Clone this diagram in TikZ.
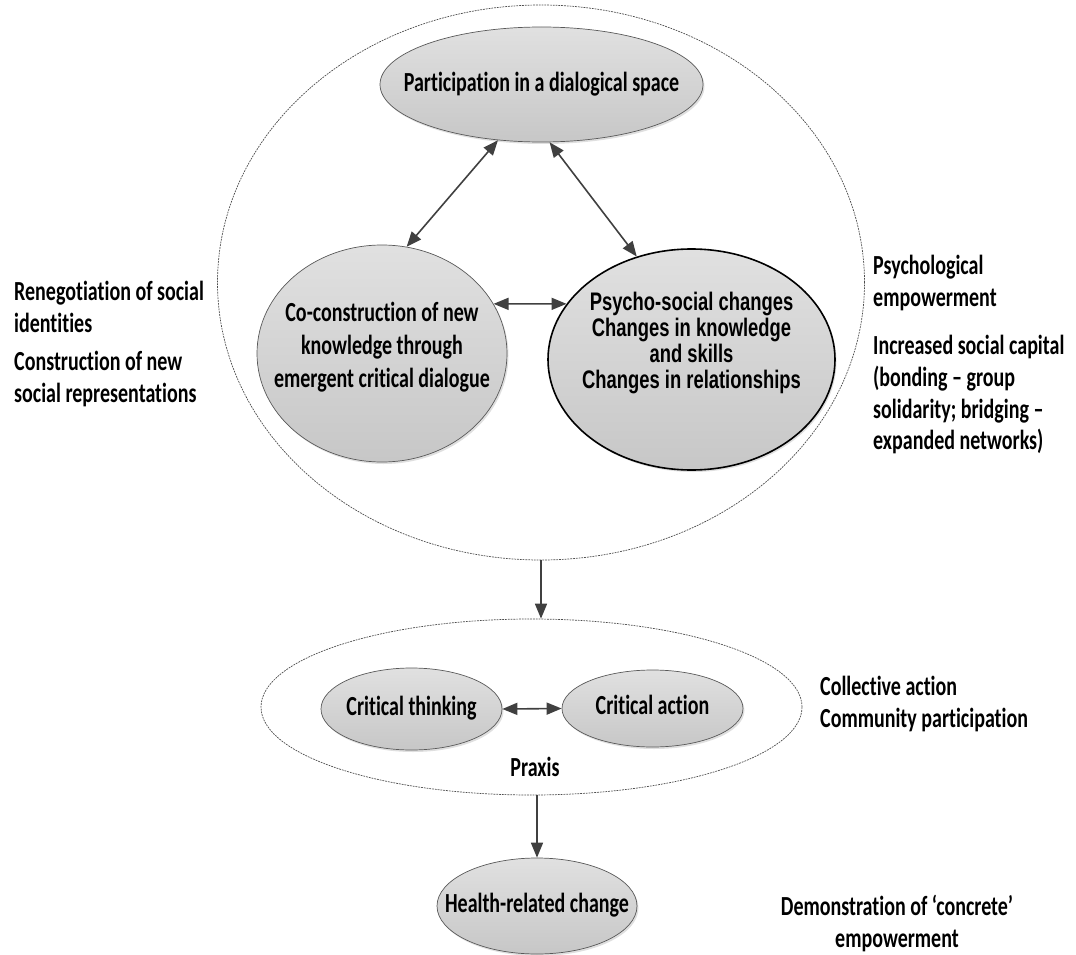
\documentclass[tikz,border=0pt]{standalone}
\usepackage{fontspec}
\setmainfont{Carlito}[Ligatures={TeX,NoCommon}]
\newfontfamily\arialfont{Liberation Sans}
\usetikzlibrary{shapes.geometric,arrows.meta,shadows}
% text in this figure is set tall and narrow
\newcommand\vt[2][c]{\scalebox{1}[1.38]{\begin{tabular}{@{}#1@{}}#2\end{tabular}}}

\begin{document}
\begin{tikzpicture}[x=1pt,y=-1pt,
  >={Triangle[length=15pt,width=12pt]},
  zone/.style={ellipse, draw=black!70, line width=0.7pt,
    dash pattern=on 1.8pt off 1pt, inner sep=0},
  bubble/.style={ellipse, draw=black!65, line width=0.7pt, inner sep=0,
    top color=black!12, bottom color=black!22,
    drop shadow={shadow xshift=1.5pt, shadow yshift=-2pt, fill=black!25, opacity=0.5}},
  strong/.style={bubble, draw=black, line width=1.6pt},
  link/.style={draw=black!75, line width=1.6pt},
  txt/.style={font=\fontsize{20}{24}\selectfont\bfseries, inner sep=0},
  side/.style={font=\fontsize{20}{23}\selectfont\bfseries, inner sep=0},
  arial/.style={font=\arialfont\fontsize{18.4}{18.8}\selectfont\bfseries, inner sep=0},
]
\useasboundingbox (0,0) rectangle (1076,955);

% dialogical space and praxis zones
\node[zone, minimum width=647, minimum height=555] (big) at (541,282.5) {};
\node[zone, minimum width=541, minimum height=176] (PR) at (531.5,707) {};

% bubbles
\node[bubble, minimum width=323, minimum height=115] (P) at (541.5,84.5) {};
\node[bubble, minimum width=250, minimum height=217] (C) at (382,353.5) {};
\node[strong, minimum width=287, minimum height=221] (S) at (691.5,359.5) {};
\node[bubble, minimum width=181, minimum height=82] (CT) at (411.5,709) {};
\node[bubble, minimum width=181, minimum height=77] (CA) at (652.5,708.5) {};
\node[bubble, minimum width=200, minimum height=96] (H) at (537,906) {};

% bubble texts
\node[txt] (Pt) at (541.5,85) {\vt{Participation in a dialogical space}};
\node[txt] (Ct) at (382,348) {\vt{Co-construction of new\\knowledge through\\emergent critical dialogue}};
\node[arial] (St) at (691.5,344) {\vt{Psycho-social changes\\Changes in knowledge\\and skills\\Changes in relationships}};
\node[txt] (CTt) at (411.5,709) {\vt{Critical thinking}};
\node[txt] (CAt) at (652.5,708) {\vt{Critical action}};
\node[txt] (Ht) at (537,906) {\vt{Health-related change}};
\node[txt] (Px) at (535,770) {\vt{Praxis}};

% side notes
\node[side, anchor=west] (L1) at (14,345) {\vt[l]{Renegotiation of social\\identities\\[4.5pt]Construction of new\\social representations}};
\node[side, anchor=west] (R1) at (873,356) {\vt[l]{Psychological\\empowerment\\[12pt]Increased social capital\\(bonding – group\\solidarity; bridging –\\expanded networks)}};
\node[side, anchor=west] (R2) at (820,705.5) {\vt[l]{Collective action\\Community participation}};
\node[side] (R3) at (897,925) {\vt{Demonstration of ‘concrete’\\empowerment}};

% connectors
\draw[link,<->] (P.232) -- (C.77);
\draw[link,<->] (P.278) -- (S.118);
\draw[link,<->] (C.24) -- (S.156);
\draw[link,->] (big.south) -- (big.south |- PR.north);
\draw[link,<->] (CT.east) -- (CA.west);
\draw[link,->] (PR.south -| H.north) -- (H.north);
\end{tikzpicture}
\end{document}
